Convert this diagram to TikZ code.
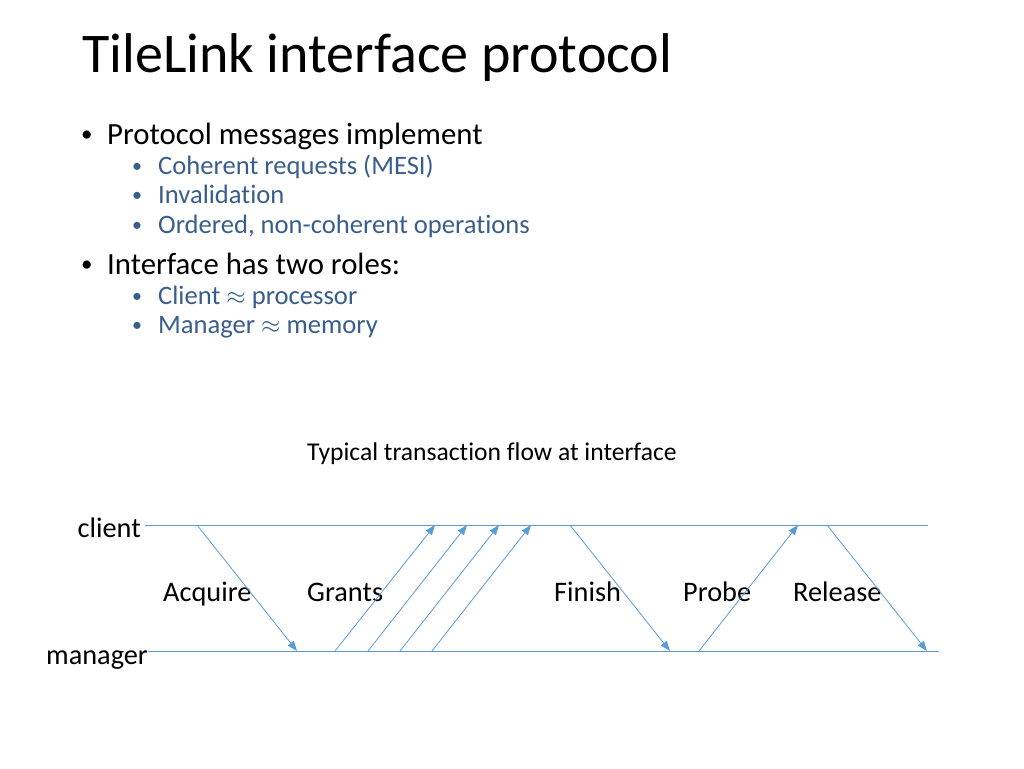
\documentclass[tikz,border=0pt]{standalone}
\usepackage{fontspec}
\setmainfont{Carlito}[Ligatures=NoCommon]
\usetikzlibrary{arrows.meta}
\definecolor{linec}{HTML}{5B9BD5}
\definecolor{subc}{HTML}{3A5E8C}
\begin{document}
\begin{tikzpicture}[x=1pt,y=-1pt,
  titletxt/.style={anchor=base west,inner sep=0pt,font=\fontsize{56}{66}\selectfont},
  lvlone/.style={anchor=base west,inner sep=0pt,font=\fontsize{30.8}{36}\selectfont},
  bulone/.style={anchor=base west,inner sep=0pt,font=\fontsize{23}{28}\selectfont},
  lvltwo/.style={anchor=base west,inner sep=0pt,text=subc,font=\fontsize{26.6}{31}\selectfont},
  bultwo/.style={anchor=base west,inner sep=0pt,text=subc,font=\fontsize{20}{24}\selectfont},
  lbl/.style={anchor=base west,inner sep=0pt,font=\fontsize{28.3}{33}\selectfont},
  captxt/.style={anchor=base west,inner sep=0pt,font=\fontsize{25.6}{30}\selectfont},
  tl/.style={draw=linec,line width=1pt},
  msg/.style={draw=linec,line width=0.8pt,-{Triangle[length=10pt,width=7.5pt]}}]
\useasboundingbox (0,0) rectangle (1024,768);
\node[titletxt] (t) at (82,72) {TileLink interface protocol};
% level 1 bullets
\node[bulone] (b1) at (81,141) {•};
\node[lvlone] (l1) at (107,144) {Protocol messages implement};
\node[bulone] (b2) at (81,271) {•};
\node[lvlone] (l2) at (107,274) {Interface has two roles:};
% level 2 bullets
\node[bultwo] (s1b) at (132,172) {•};
\node[lvltwo] (s1) at (158,174) {Coherent requests (MESI)};
\node[bultwo] (s2b) at (132,201) {•};
\node[lvltwo] (s2) at (158,203) {Invalidation};
\node[bultwo] (s3b) at (132,231) {•};
\node[lvltwo] (s3) at (158,233) {Ordered, non-coherent operations};
\node[bultwo] (s4b) at (132,302) {•};
\node[lvltwo] (s4) at (158,304) {Client $\approx$ processor};
\node[bultwo] (s5b) at (132,331) {•};
\node[lvltwo] (s5) at (158,333) {Manager $\approx$ memory};
% caption
\node[captxt] (captn) at (307,460) {Typical transaction flow at interface};
% timelines
\node[lbl,anchor=base east] (client) at (141,537) {client};
\node[lbl,anchor=base east] (manager) at (148,664) {manager};
\coordinate (cs) at (145,525);
\coordinate (ce) at (928,525);
\coordinate (ms) at (148,651);
\coordinate (me) at (939,651);
\draw[tl] (cs) -- (ce);
\draw[tl] (ms) -- (me);
% message labels
\node[lbl] (acq) at (163,601) {Acquire};
\node[lbl] (gr) at (307,601) {Grants};
\node[lbl] (fin) at (554,601) {Finish};
\node[lbl] (prb) at (683,601) {Probe};
\node[lbl] (rel) at (793,601) {Release};
% message endpoints
\coordinate (a1) at (197,525); \coordinate (a2) at (297,651);
\coordinate (g1s) at (335,651); \coordinate (g1e) at (435,525);
\coordinate (g2s) at (368,651); \coordinate (g2e) at (467,525);
\coordinate (g3s) at (400,651); \coordinate (g3e) at (499,525);
\coordinate (g4s) at (432,651); \coordinate (g4e) at (531,525);
\coordinate (f1) at (570,525); \coordinate (f2) at (670,651);
\coordinate (p1) at (699,651); \coordinate (p2) at (798,525);
\coordinate (r1) at (827,525); \coordinate (r2) at (927,651);
\draw[msg] (a1) -- (a2);
\draw[msg] (g1s) -- (g1e);
\draw[msg] (g2s) -- (g2e);
\draw[msg] (g3s) -- (g3e);
\draw[msg] (g4s) -- (g4e);
\draw[msg] (f1) -- (f2);
\draw[msg] (p1) -- (p2);
\draw[msg] (r1) -- (r2);
\end{tikzpicture}
\end{document}
